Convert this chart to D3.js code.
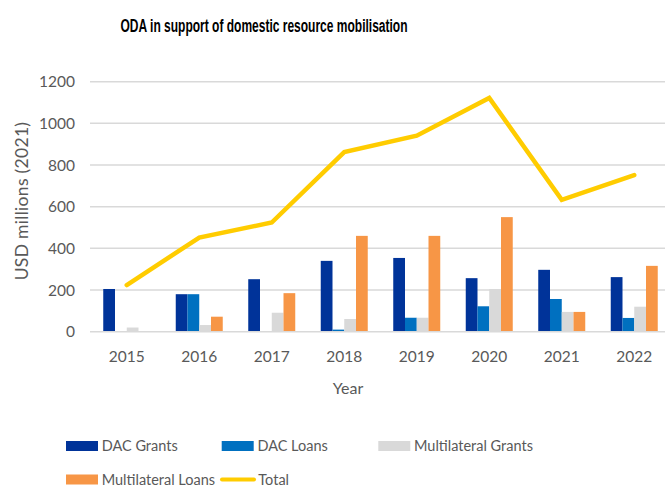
<!DOCTYPE html>
<html>
<head>
<meta charset="utf-8">
<script src="https://cdn.jsdelivr.net/npm/d3@7"></script>
<style>
  html, body { margin: 0; padding: 0; background: #fff; }
  svg { display: block; }
  text { font-family: Lato, "Open Sans", sans-serif; fill: #595959; }
</style>
</head>
<body>
<svg id="chart" width="665" height="487"></svg>
<script>
// ODA in support of domestic resource mobilisation, USD millions (2021)
const years = ["2015", "2016", "2017", "2018", "2019", "2020", "2021", "2022"];
const dacGrants = [205, 180, 252, 340, 354, 257, 297, 262];
const dacLoans = [0, 180, 0, 10, 67, 122, 157, 66];
const multilateralGrants = [20, 32, 91, 61, 67, 205, 95, 120];
const multilateralLoans = [0, 72, 185, 460, 460, 550, 95, 316];
const total = [224, 452, 524, 862, 941, 1122, 633, 752];
const yTicks = [0, 200, 400, 600, 800, 1000, 1200];

const seriesNames = ["DAC Grants", "DAC Loans", "Multilateral Grants", "Multilateral Loans"];
const seriesValues = [dacGrants, dacLoans, multilateralGrants, multilateralLoans];
const colors = ["#003399", "#0070C0", "#D9D9D9", "#F79646"];
const totalColor = "#FFCC00";

const svg = d3.select("#chart");

const x = d3.scaleBand().domain(years).range([90.5, 670.5]).padding(0);
const groupWidth = 47;
const xInner = d3.scaleBand().domain(seriesNames).range([0, groupWidth]).padding(0);
const y = d3.scaleLinear().domain([0, 1200]).range([331.7, 81.7]);

// Title
svg.append("text")
  .attr("x", 264).attr("y", 31.5)
  .attr("text-anchor", "middle")
  .attr("textLength", 287).attr("lengthAdjust", "spacingAndGlyphs")
  .style("font-family", "'Liberation Sans Narrow', 'Liberation Sans', Arial, sans-serif")
  .style("font-weight", "bold").style("font-size", "18px").style("fill", "#000")
  .text("ODA in support of domestic resource mobilisation");

// Horizontal gridlines
svg.append("g").selectAll("line").data(yTicks.filter(d => d > 0)).join("line")
  .attr("x1", 90).attr("x2", 665)
  .attr("y1", d => y(d)).attr("y2", d => y(d))
  .attr("stroke", "#D9D9D9").attr("stroke-width", 1.5);

// Y axis labels
const yAxis = svg.append("g").attr("transform", "translate(90,0)")
  .call(d3.axisLeft(y).tickValues(yTicks).tickFormat(d3.format("d")).tickSize(0).tickPadding(15));
yAxis.select(".domain").remove();
yAxis.selectAll("text").style("font-family", "Lato, sans-serif").style("font-size", "15.5px").style("fill", "#595959");

// Bars
const groups = svg.append("g").selectAll("g").data(years).join("g")
  .attr("transform", d => `translate(${x(d) + (x.bandwidth() - groupWidth) / 2},0)`);
groups.selectAll("rect")
  .data((d, i) => seriesNames.map((s, k) => ({ series: s, value: seriesValues[k][i], color: colors[k] })))
  .join("rect")
  .attr("x", d => xInner(d.series))
  .attr("width", xInner.bandwidth())
  .attr("y", d => y(d.value))
  .attr("height", d => y(0) - y(d.value))
  .attr("fill", d => d.color);

// X axis
const xAxis = svg.append("g").attr("transform", `translate(0,${y(0)})`)
  .call(d3.axisBottom(x).tickSize(0).tickPadding(19));
xAxis.select(".domain").attr("stroke", "#D9D9D9").attr("stroke-width", 1.5).attr("d", "M90,0H665");
xAxis.selectAll("text").style("font-family", "Lato, sans-serif").style("font-size", "15.5px").style("fill", "#595959");

// Total line
const line = d3.line().x((d, i) => x(years[i]) + x.bandwidth() / 2).y(d => y(d));
svg.append("path").datum(total)
  .attr("d", line)
  .attr("fill", "none").attr("stroke", totalColor).attr("stroke-width", 4.5)
  .attr("stroke-linecap", "round").attr("stroke-linejoin", "miter");

// Axis titles
svg.append("text")
  .attr("transform", "translate(28,201) rotate(-90)")
  .attr("text-anchor", "middle")
  .style("font-size", "17.5px").style("letter-spacing", "0.3px")
  .text("USD millions (2021)");

svg.append("text")
  .attr("x", 348).attr("y", 394)
  .attr("text-anchor", "middle")
  .style("font-size", "16px")
  .text("Year");

// Legend
const legendItems = [
  { name: "DAC Grants", color: colors[0], type: "bar", x: 66, y: 446 },
  { name: "DAC Loans", color: colors[1], type: "bar", x: 221.7, y: 446 },
  { name: "Multilateral Grants", color: colors[2], type: "bar", x: 378.3, y: 446 },
  { name: "Multilateral Loans", color: colors[3], type: "bar", x: 66, y: 479.5 },
  { name: "Total", color: totalColor, type: "line", x: 221, y: 479.5 }
];
const legend = svg.append("g").selectAll("g").data(legendItems).join("g")
  .attr("transform", d => `translate(${d.x},${d.y})`);
legend.filter(d => d.type === "bar").append("rect")
  .attr("x", 0).attr("y", -5).attr("width", 32).attr("height", 10)
  .attr("fill", d => d.color);
legend.filter(d => d.type === "line").append("line")
  .attr("x1", 1).attr("x2", 33).attr("y1", 0).attr("y2", 0)
  .attr("stroke", d => d.color).attr("stroke-width", 4).attr("stroke-linecap", "round");
legend.append("text")
  .attr("x", d => d.type === "bar" ? 35.7 : 37.3)
  .attr("y", 0).attr("dy", "0.35em")
  .style("font-size", "14.5px")
  .text(d => d.name);
</script>
</body>
</html>
